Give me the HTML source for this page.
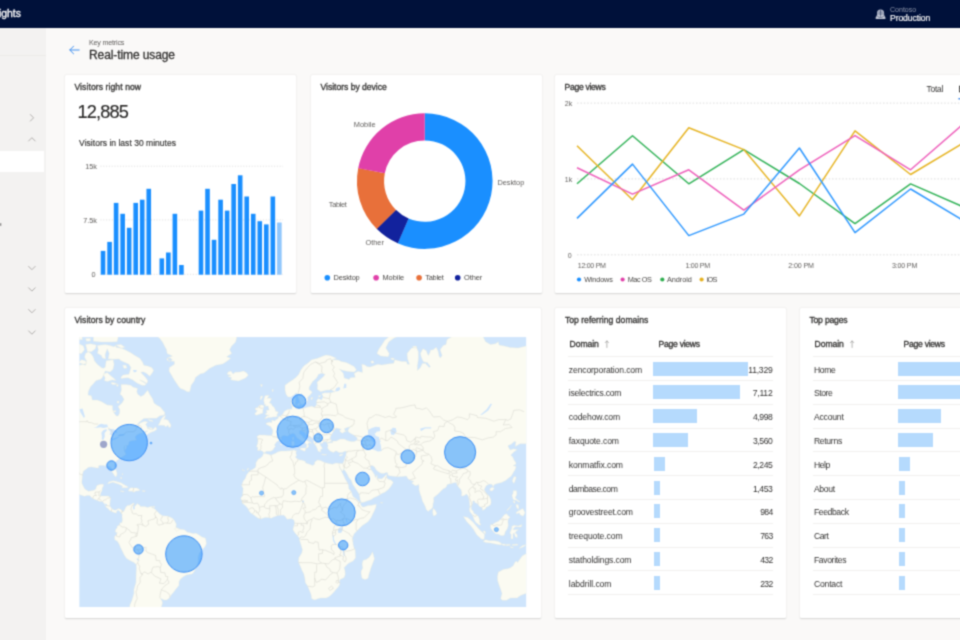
<!DOCTYPE html>
<html lang="en"><head><meta charset="utf-8"><title>Real-time usage</title>
<style>
*{box-sizing:border-box;margin:0;padding:0}
html,body{width:960px;height:640px;overflow:hidden}
body{position:relative;background:#faf9f8;font-family:"Liberation Sans",sans-serif;color:#333}
#pg{position:absolute;left:0;top:0;width:960px;height:640px;background:#faf9f8;filter:url(#soft)}
.t{position:absolute;white-space:nowrap;line-height:1;display:block}
.topbar{position:absolute;left:-12px;top:-12px;width:984px;height:40px;background:#00113a}
.sidebar{position:absolute;left:-12px;top:28px;width:58px;height:624px;background:#f3f2f1}
.sidebar .sel{position:absolute;left:0;top:122.5px;width:56.2px;height:21px;background:#fff}
.sidebar .hr{position:absolute;left:0;top:26.5px;width:58px;height:1px;background:#edebe9}
.card{position:absolute;background:#fff;box-shadow:0 0.6px 1.8px rgba(0,0,0,.13),0 0.2px 0.6px rgba(0,0,0,.10);border-radius:1px;overflow:hidden}
svg{position:absolute;left:0;top:0;overflow:visible}
.row{position:absolute;height:1px;background:#f1f0ef}
.bar{position:absolute;height:14px;background:#b5dafd}
</style></head>
<body>
<svg width="0" height="0" style="position:absolute"><defs><filter id="soft" x="0" y="0" width="1" height="1" color-interpolation-filters="sRGB"><feConvolveMatrix order="3" kernelMatrix="0.0400 0.1200 0.0400 0.1200 0.3600 0.1200 0.0400 0.1200 0.0400" edgeMode="duplicate" preserveAlpha="false"/></filter></defs></svg>
<div id="pg">
<div class="topbar"></div><span class="t" style="right:939.1px;top:9.2px;font-size:10.4px;color:#fff;-webkit-text-stroke:0.3px;">Insights</span><svg width="960" height="28" viewBox="0 0 960 28">
  <g>
   <path d="M877,15.3 L877,13.2 Q877,9.6 880.55,9.6 Q884.1,9.6 884.1,13.2 L884.1,15.3 Z" fill="#b3bacb"/>
   <path d="M877,14.9 L884.1,14.9 L885.4,17.6 L885.4,18.9 L875.7,18.9 L875.7,17.6 Z" fill="#c2c7d5"/>
   <path d="M880.55,10.4 L880.55,16.6" stroke="#0a1a44" stroke-width="0.75" stroke-dasharray="1.3 0.6" fill="none"/>
   <path d="M877.9,12.1 L883.2,12.1 M877.4,13.9 L883.7,13.9" stroke="#0a1a44" stroke-width="0.4" fill="none" opacity=".7"/>
   <path d="M877.3,16.1 L879.3,17.5 L881.8,17.5 L883.8,16.1" stroke="#0a1a44" stroke-width="0.6" fill="none" opacity=".75"/>
  </g></svg><span class="t" style="left:890.0px;top:6.4px;font-size:7px;color:#8e97ab;letter-spacing:0.020px;">Contoso</span><span class="t" style="left:890.0px;top:14.3px;font-size:8.6px;color:#fff;-webkit-text-stroke:0.16px;letter-spacing:-0.099px;">Production</span>
<div class="sidebar"><div class="hr"></div><div class="sel"></div></div><svg width="46" height="640" viewBox="0 0 46 640"><path d="M30.299999999999997,114.5 L33.6,117.8 L30.299999999999997,121.1" fill="none" stroke="#a9a7a5" stroke-width="0.9" stroke-linecap="round" stroke-linejoin="round"/><path d="M28.599999999999998,141.0 L31.9,137.70000000000002 L35.199999999999996,141.0" fill="none" stroke="#a9a7a5" stroke-width="0.9" stroke-linecap="round" stroke-linejoin="round"/><path d="M28.599999999999998,266.4 L31.9,269.7 L35.199999999999996,266.4" fill="none" stroke="#a9a7a5" stroke-width="0.9" stroke-linecap="round" stroke-linejoin="round"/><path d="M28.599999999999998,287.79999999999995 L31.9,291.09999999999997 L35.199999999999996,287.79999999999995" fill="none" stroke="#a9a7a5" stroke-width="0.9" stroke-linecap="round" stroke-linejoin="round"/><path d="M28.599999999999998,309.5 L31.9,312.8 L35.199999999999996,309.5" fill="none" stroke="#a9a7a5" stroke-width="0.9" stroke-linecap="round" stroke-linejoin="round"/><path d="M28.599999999999998,330.9 L31.9,334.2 L35.199999999999996,330.9" fill="none" stroke="#a9a7a5" stroke-width="0.9" stroke-linecap="round" stroke-linejoin="round"/><rect x="0" y="223.2" width="1.2" height="2.6" fill="#555" opacity=".8"/></svg>
<svg width="960" height="70" viewBox="0 0 960 70"><path d="M73.6,46.2 L69.8,50 L73.6,53.8 M69.9,50 L79.2,50" fill="none" stroke="#3f8ff0" stroke-width="1" stroke-linecap="round" stroke-linejoin="round"/></svg><span class="t" style="left:89.0px;top:39.1px;font-size:7.2px;color:#605e5c;letter-spacing:-0.215px;">Key metrics</span><span class="t" style="left:89.0px;top:48.8px;font-size:12px;color:#323130;-webkit-text-stroke:0.3px;letter-spacing:-0.098px;">Real-time usage</span>
<div class="card" style="left:65px;top:75.4px;width:231px;height:217.9px"><svg width="231" height="218" viewBox="65 75.4 231 218"><line x1="100.4" y1="166.6" x2="283" y2="166.6" stroke="#d9d9d9" stroke-width="0.8" stroke-dasharray="1.2 1.6"/><line x1="100.4" y1="220.3" x2="283" y2="220.3" stroke="#d9d9d9" stroke-width="0.8" stroke-dasharray="1.2 1.6"/><line x1="100.4" y1="274.7" x2="283" y2="274.7" stroke="#d9d9d9" stroke-width="0.8" stroke-dasharray="1.2 1.6"/><rect x="100.75" y="251.3" width="4.6" height="23.8" fill="#1a8fff"/><rect x="107.28" y="242.3" width="4.6" height="32.8" fill="#1a8fff"/><rect x="113.81" y="203.3" width="4.6" height="71.8" fill="#1a8fff"/><rect x="120.34" y="214.2" width="4.6" height="60.9" fill="#1a8fff"/><rect x="126.87" y="228.2" width="4.6" height="46.9" fill="#1a8fff"/><rect x="133.40" y="203.3" width="4.6" height="71.8" fill="#1a8fff"/><rect x="139.93" y="200.1" width="4.6" height="75.0" fill="#1a8fff"/><rect x="146.46" y="189.2" width="4.6" height="85.9" fill="#1a8fff"/><rect x="159.52" y="258.8" width="4.6" height="16.3" fill="#1a8fff"/><rect x="166.05" y="252.9" width="4.6" height="22.2" fill="#1a8fff"/><rect x="172.58" y="214.2" width="4.6" height="60.9" fill="#1a8fff"/><rect x="179.11" y="265.4" width="4.6" height="9.7" fill="#1a8fff"/><rect x="198.70" y="211.0" width="4.6" height="64.1" fill="#1a8fff"/><rect x="205.23" y="189.2" width="4.6" height="85.9" fill="#1a8fff"/><rect x="211.76" y="240.2" width="4.6" height="34.9" fill="#1a8fff"/><rect x="218.29" y="200.1" width="4.6" height="75.0" fill="#1a8fff"/><rect x="224.82" y="211.0" width="4.6" height="64.1" fill="#1a8fff"/><rect x="231.35" y="184.4" width="4.6" height="90.7" fill="#1a8fff"/><rect x="237.88" y="175.7" width="4.6" height="99.4" fill="#1a8fff"/><rect x="244.41" y="196.9" width="4.6" height="78.2" fill="#1a8fff"/><rect x="250.94" y="214.2" width="4.6" height="60.9" fill="#1a8fff"/><rect x="257.47" y="221.6" width="4.6" height="53.5" fill="#1a8fff"/><rect x="264.00" y="224.8" width="4.6" height="50.3" fill="#1a8fff"/><rect x="270.53" y="196.9" width="4.6" height="78.2" fill="#1a8fff"/><rect x="277.06" y="222.9" width="4.6" height="52.2" fill="#90c6fc"/></svg></div><span class="t" style="left:74.4px;top:82.7px;font-size:8.6px;color:#323130;-webkit-text-stroke:0.3px;letter-spacing:0.083px;">Visitors right now</span><span class="t" style="left:77.5px;top:103.1px;font-size:18.2px;color:#2b2a29;-webkit-text-stroke:0.16px;letter-spacing:-0.828px;">12,885</span><span class="t" style="left:79.1px;top:138.5px;font-size:8.5px;color:#323130;-webkit-text-stroke:0.16px;letter-spacing:0.026px;">Visitors in last 30 minutes</span><span class="t" style="right:863.0px;top:163.0px;font-size:7.3px;color:#605e5c;">15k</span><span class="t" style="right:863.0px;top:216.7px;font-size:7.3px;color:#605e5c;">7.5k</span><span class="t" style="right:864.4px;top:271.1px;font-size:7.3px;color:#605e5c;">0</span>
<div class="card" style="left:311px;top:75.4px;width:231px;height:217.9px"><svg width="231" height="218" viewBox="311 75.4 231 218"><path d="M424.75,113.70 A67.8,67.8 0 1 1 397.61,243.63 L408.46,218.80 A40.7,40.7 0 1 0 424.75,140.80 Z" fill="#1a8fff"/><path d="M397.82,243.72 A67.8,67.8 0 0 1 376.64,229.27 L395.87,210.18 A40.7,40.7 0 0 0 408.59,218.85 Z" fill="#12229d"/><path d="M376.81,229.44 A67.8,67.8 0 0 1 358.24,168.33 L384.83,173.59 A40.7,40.7 0 0 0 395.97,210.28 Z" fill="#e8703a"/><path d="M358.20,168.56 A67.8,67.8 0 0 1 424.75,113.70 L424.75,140.80 A40.7,40.7 0 0 0 384.80,173.73 Z" fill="#e040a9"/><circle cx="327.3" cy="278.1" r="2.8" fill="#1a8fff"/><circle cx="376.1" cy="278.1" r="2.8" fill="#e040a9"/><circle cx="419.1" cy="278.1" r="2.8" fill="#e8703a"/><circle cx="457.7" cy="278.1" r="2.8" fill="#12229d"/></svg></div><span class="t" style="left:320.5px;top:82.7px;font-size:8.6px;color:#323130;-webkit-text-stroke:0.3px;letter-spacing:-0.025px;">Visitors by device</span><span class="t" style="left:353.8px;top:120.5px;font-size:7.4px;color:#605e5c;letter-spacing:-0.016px;">Mobile</span><span class="t" style="left:497.5px;top:179.3px;font-size:7.4px;color:#605e5c;letter-spacing:-0.054px;">Desktop</span><span class="t" style="left:328.8px;top:201.3px;font-size:7.4px;color:#605e5c;letter-spacing:-0.347px;">Tablet</span><span class="t" style="left:365.6px;top:239.0px;font-size:7.4px;color:#605e5c;letter-spacing:-0.046px;">Other</span><span class="t" style="left:333.6px;top:274.4px;font-size:7.4px;color:#484644;letter-spacing:-0.171px;">Desktop</span><span class="t" style="left:382.4px;top:274.4px;font-size:7.4px;color:#484644;">Mobile</span><span class="t" style="left:425.3px;top:274.4px;font-size:7.4px;color:#484644;letter-spacing:-0.267px;">Tablet</span><span class="t" style="left:464.0px;top:274.4px;font-size:7.4px;color:#484644;letter-spacing:-0.046px;">Other</span>
<div class="card" style="left:555px;top:75.4px;width:420px;height:217.9px"><svg width="405" height="218" viewBox="555 75.4 405 218"><line x1="577" y1="103.5" x2="960" y2="103.5" stroke="#d6d6d6" stroke-width="0.8" stroke-dasharray="1.6 1.8"/><line x1="577" y1="179.3" x2="960" y2="179.3" stroke="#d6d6d6" stroke-width="0.8" stroke-dasharray="1.6 1.8"/><line x1="577" y1="255.2" x2="960" y2="255.2" stroke="#d6d6d6" stroke-width="0.8" stroke-dasharray="1.6 1.8"/><polyline points="577.0,184.2 632.5,136.2 688.8,184.2 743.8,150.0 799.4,183.9 855.0,224.0 910.6,184.3 966.2,208.6" fill="none" stroke="#31b257" stroke-width="1.5" stroke-linejoin="round"/><polyline points="577.0,146.2 632.5,200.2 688.8,128.2 743.8,150.0 799.4,216.3 855.0,131.3 910.6,174.9 966.2,141.8" fill="none" stroke="#e6b424" stroke-width="1.5" stroke-linejoin="round"/><polyline points="577.0,168.2 632.5,194.5 688.8,170.2 743.8,210.5 799.4,170.2 855.0,136.0 910.6,170.2 966.2,121.9" fill="none" stroke="#ee60bb" stroke-width="1.5" stroke-linejoin="round"/><polyline points="577.0,218.8 632.5,164.5 688.8,236.0 743.8,214.5 799.4,148.4 855.0,233.0 910.6,189.4 966.2,222.5" fill="none" stroke="#2f98ff" stroke-width="1.5" stroke-linejoin="round"/><circle cx="579" cy="279.9" r="2.1" fill="#1a8fff"/><circle cx="622.6" cy="279.9" r="2.1" fill="#e040a9"/><circle cx="662.3" cy="279.9" r="2.1" fill="#2fae4f"/><circle cx="701.6" cy="279.9" r="2.1" fill="#e6b11f"/><rect x="958.3" y="98.6" width="4" height="1.2" fill="#2b7de9"/></svg></div><span class="t" style="left:564.5px;top:82.6px;font-size:8.6px;color:#323130;-webkit-text-stroke:0.3px;letter-spacing:-0.295px;">Page views</span><span class="t" style="left:926.6px;top:84.6px;font-size:8.4px;color:#323130;letter-spacing:-0.226px;">Total</span><span class="t" style="left:958.4px;top:84.6px;font-size:8.4px;color:#323130;-webkit-text-stroke:0.3px;">By OS</span><span class="t" style="right:387.8px;top:100.1px;font-size:7px;color:#605e5c;">2k</span><span class="t" style="right:387.8px;top:175.9px;font-size:7px;color:#605e5c;">1k</span><span class="t" style="right:388.4px;top:251.8px;font-size:7px;color:#605e5c;">0</span><span class="t" style="left:577.8px;top:262.9px;font-size:7.1px;color:#605e5c;letter-spacing:-0.311px;">12:00 PM</span><span class="t" style="left:685.4px;top:262.9px;font-size:7.1px;color:#605e5c;letter-spacing:-0.270px;">1:00 PM</span><span class="t" style="left:788.3px;top:262.9px;font-size:7.1px;color:#605e5c;letter-spacing:-0.120px;">2:00 PM</span><span class="t" style="left:892.0px;top:262.9px;font-size:7.1px;color:#605e5c;letter-spacing:-0.187px;">3:00 PM</span><span class="t" style="left:584.2px;top:276.2px;font-size:7.3px;color:#484644;letter-spacing:-0.168px;">Windows</span><span class="t" style="left:627.7px;top:276.2px;font-size:7.3px;color:#484644;letter-spacing:-0.412px;">Mac OS</span><span class="t" style="left:667.0px;top:276.2px;font-size:7.3px;color:#484644;letter-spacing:-0.059px;">Android</span><span class="t" style="left:706.7px;top:276.2px;font-size:7.3px;color:#484644;letter-spacing:-0.736px;">iOS</span>
<div class="card" style="left:65px;top:308px;width:476.3px;height:309.6px"><svg width="476" height="310" viewBox="65 308 476 310"><defs><clipPath id="mapclip"><rect x="79.2" y="337.1" width="447.2" height="269.9"/></clipPath></defs><g clip-path="url(#mapclip)"><rect x="79.2" y="337.1" width="447.2" height="269.9" fill="#cfe5fc"/><path d="M57.8,365.9L67.7,365.9L77.6,365.9L82.5,364.2L85.5,365.2L86.5,360.7L84.5,357.2L85.5,353.5L88.4,351.7L91.4,353.9L93.4,357.2L94.4,360.7L97.3,364.2L101.3,367.6L103.3,368.3L105.2,367.3L106.2,360.7L113.1,359.7L114.1,364.2L113.1,369.3L110.2,372.0L105.2,371.0L103.3,375.9L101.3,379.1L95.9,380.7L93.4,383.8L90.4,386.9L88.4,391.4L88.0,394.9L91.4,395.8L92.4,400.1L97.3,400.1L101.3,401.5L107.2,404.9L112.5,405.4L112.7,409.8L114.1,413.0L116.1,415.7L118.1,415.9L119.5,413.3L119.8,409.8L118.1,406.5L122.0,402.9L124.0,399.5L122.0,395.8L120.0,394.3L121.4,389.9L121.0,384.4L126.0,384.4L130.9,385.3L132.9,386.9L137.6,388.4L136.8,391.4L137.8,394.3L140.8,396.4L143.8,394.9L146.1,392.0L147.7,390.2L149.7,394.3L152.6,398.7L154.0,402.9L156.6,405.1L160.5,407.1L162.5,409.8L164.9,412.5L164.5,414.9L159.6,415.9L156.6,418.3L150.7,418.3L143.8,418.6L139.8,421.7L136.8,425.0L134.9,427.0L137.8,425.0L140.8,422.7L144.7,421.2L147.9,421.9L145.7,424.2L147.1,426.7L147.7,428.7L149.7,429.2L153.0,429.5L155.6,426.7L157.0,429.2L154.6,431.0L150.7,432.4L147.7,434.2L145.3,435.4L144.3,433.7L147.7,431.0L145.7,431.2L142.8,431.7L142.8,432.7L139.8,433.4L136.8,434.9L135.5,436.6L135.3,438.3L136.8,439.5L135.7,440.2L133.9,440.4L130.9,440.9L128.9,442.1L128.9,444.2L127.2,446.0L126.0,444.9L126.8,447.2L125.2,450.4L124.4,449.3L124.6,445.6L123.8,447.9L124.4,450.9L126.0,454.5L123.6,456.1L121.2,457.7L119.1,459.0L117.1,460.6L115.1,462.3L114.3,465.2L115.1,468.4L116.1,470.2L117.1,473.2L116.7,475.9L115.5,476.8L114.5,475.7L113.5,474.0L111.7,471.2L111.7,468.9L110.2,466.7L108.6,466.3L106.6,466.9L104.8,465.6L102.3,465.6L100.3,465.6L98.7,465.8L98.7,468.0L96.7,468.0L94.4,467.4L91.4,466.9L88.0,467.6L86.5,468.9L83.5,471.0L82.7,473.8L82.3,477.0L81.9,481.2L81.9,483.3L83.1,485.8L84.9,488.9L86.5,490.1L88.4,491.2L91.4,490.8L93.8,490.3L95.7,489.1L96.5,486.4L96.9,485.4L100.3,484.3L103.3,484.3L103.6,485.8L102.3,488.1L101.9,491.0L100.9,492.6L100.3,495.3L99.9,496.1L101.9,495.9L105.2,495.9L108.2,496.1L110.6,497.7L110.2,500.7L110.0,503.8L109.8,505.8L111.2,507.8L112.7,509.4L115.1,510.2L117.1,509.4L118.1,508.6L120.0,509.0L122.2,510.6L121.2,513.4L120.2,511.8L118.1,510.0L116.5,511.4L116.3,513.2L114.1,512.4L111.6,511.4L110.0,510.8L107.6,508.2L105.6,506.8L105.6,505.4L103.3,502.4L102.1,501.6L99.7,501.4L96.3,500.1L93.0,498.7L89.4,495.5L87.1,495.5L84.5,496.3L80.5,495.1L77.6,493.6L73.6,491.6L69.7,489.5L57.8,477.0ZM103.3,374.3L107.2,372.6L110.2,375.2L114.1,378.5L116.1,380.4L112.1,380.0L107.2,381.6L104.2,380.4L105.2,378.1ZM111.2,382.5L113.5,382.5L117.5,384.1L113.1,384.7L111.2,383.8ZM116.7,384.4L118.5,384.7L117.9,386.6L116.5,385.9ZM117.1,401.2L119.1,400.9L118.7,403.2L117.1,402.9ZM112.7,410.9L115.9,410.6L115.7,412.0L113.1,411.7ZM121.0,378.5L125.0,378.1L128.0,377.8L132.9,380.0L136.8,382.9L141.8,385.3L144.7,385.6L146.3,384.1L143.2,381.9L139.6,380.0L142.8,381.0L146.9,383.5L147.9,380.7L145.7,377.5L141.8,373.6L140.8,372.0L143.8,372.0L146.7,373.6L149.7,376.2L152.6,372.6L153.6,370.3L151.7,367.6L147.7,365.9L143.8,365.2L142.8,362.5L139.8,358.2L134.9,355.4L130.9,352.8L125.0,349.8L121.0,347.9L116.1,345.3L114.1,346.8L109.2,345.3L105.2,344.5L101.3,344.9L97.3,345.6L98.3,349.8L97.3,353.2L101.3,355.4L102.3,357.9L105.6,358.9L105.2,354.6L107.2,348.7L109.2,353.2L108.2,358.9L113.1,359.3L119.1,358.9L121.0,360.7L125.0,362.5L128.9,364.2L130.9,367.6L129.9,371.0L128.9,374.3L123.0,374.9L121.0,376.9ZM115.5,344.9L121.0,344.5L125.0,347.2L121.0,348.3L116.1,347.2ZM85.5,344.5L90.4,343.7L96.3,344.9L95.4,348.7L91.4,351.7L87.4,351.7L86.5,347.9ZM73.6,346.0L79.5,344.1L83.5,346.0L84.5,349.8L81.5,353.5L77.6,353.5L73.6,349.8ZM93.4,341.3L101.3,342.1L109.2,342.1L117.1,341.7L118.1,337.8L117.1,332.0L93.4,332.0ZM85.5,338.6L90.4,338.2L90.4,341.0L86.5,341.3ZM71.6,334.1L81.5,334.1L82.5,339.4L76.6,340.2L71.6,338.2ZM78.6,362.5L81.5,359.7L85.5,360.7L86.5,363.5L83.5,364.2ZM122.6,365.2L126.0,365.2L127.0,368.0L124.0,368.6ZM156.6,327.8L156.6,336.1L159.6,338.2L162.5,342.1L164.5,346.0L166.5,349.8L167.1,353.5L172.4,356.1L167.5,357.9L168.5,360.7L174.4,361.4L174.4,364.2L169.4,367.6L169.0,371.0L171.4,374.9L173.4,378.5L175.8,382.2L178.3,385.9L180.3,388.4L184.3,389.9L187.2,391.7L189.6,391.7L190.2,389.9L191.2,385.3L194.1,381.3L195.5,377.5L200.1,373.9L204.0,373.0L209.9,368.3L215.9,365.2L222.8,363.9L227.7,360.7L230.7,358.2L226.7,356.8L231.7,353.5L229.7,349.8L231.7,346.0L235.6,342.1L236.6,338.2L237.6,327.8ZM166.9,358.2L170.4,357.9L172.4,360.0L169.4,361.4L166.9,360.0ZM227.1,374.3L228.1,372.0L230.9,371.1L233.1,373.9L235.0,372.3L239.6,372.0L243.5,371.0L246.3,372.6L248.3,375.2L245.5,378.1L238.6,381.0L234.6,380.4L230.5,379.7L231.7,377.8L227.7,376.2L231.1,375.2ZM158.0,425.2L159.6,422.9L160.5,420.4L162.5,417.3L165.5,414.9L164.9,417.8L163.5,419.3L165.5,419.3L168.5,420.4L169.4,422.7L170.4,423.7L171.0,425.5L170.2,427.7L168.5,427.0L168.1,425.2L165.5,427.0L164.5,425.5L161.5,425.2ZM147.7,419.3L152.6,420.6L153.2,421.4L149.7,420.9ZM148.1,427.2L152.6,428.0L152.1,429.2L148.7,428.5ZM122.2,510.6L123.4,511.8L125.0,509.0L126.0,506.8L127.4,505.6L129.9,505.2L132.5,503.4L133.9,503.0L134.3,504.2L133.1,505.4L133.7,507.2L134.9,506.2L136.4,504.8L137.2,503.4L139.8,505.2L140.4,506.6L144.7,506.6L147.7,507.4L150.7,506.4L152.8,506.4L151.7,507.4L154.6,508.8L156.6,510.8L159.6,513.8L162.5,515.8L166.5,516.0L168.8,516.4L172.4,518.2L174.0,519.8L176.4,524.2L175.8,527.2L179.3,528.8L180.3,529.2L184.3,529.7L187.2,532.1L189.2,532.5L193.1,533.5L196.1,533.3L199.1,535.1L202.0,537.1L205.4,538.1L206.2,541.7L206.4,543.7L205.0,546.7L202.0,549.7L199.1,553.8L198.1,557.8L198.1,561.9L197.1,565.0L196.1,568.1L194.1,571.8L192.2,574.1L189.8,574.3L186.6,574.9L183.7,576.4L180.3,579.2L179.1,581.7L178.9,585.6L176.4,588.6L173.4,592.5L171.4,594.7L169.4,598.1L166.7,600.1L164.1,600.1L160.0,598.1L162.1,601.0L162.5,603.3L161.3,607.2L160.5,614.2L128.9,614.2L129.9,604.9L131.9,600.3L133.9,593.6L133.9,589.3L135.9,582.8L136.1,575.4L136.4,568.1L136.2,564.6L133.9,562.5L129.9,560.5L126.6,558.4L124.4,555.4L122.6,551.7L120.6,547.7L119.1,544.1L117.3,541.3L114.7,539.7L114.5,536.7L116.5,534.5L117.3,532.7L115.3,532.1L115.5,529.7L117.1,527.8L117.1,526.2L119.5,525.0L120.0,522.8L122.0,522.6L122.4,519.8L122.0,516.8L122.2,514.6L121.2,513.4ZM174.8,528.2L177.9,528.2L179.3,529.6L176.8,531.1L174.8,529.7ZM107.4,483.5L109.2,481.8L111.2,481.2L113.1,480.8L116.1,481.2L118.1,482.0L121.0,482.7L123.0,484.1L125.6,485.4L128.5,487.0L127.0,487.7L121.6,487.7L122.6,486.2L120.0,484.8L118.1,483.9L115.1,483.1L113.1,482.3L110.2,482.9L109.2,483.5ZM128.1,490.8L130.1,487.9L131.3,487.7L133.5,487.9L136.8,487.9L138.8,488.9L140.0,490.3L138.8,490.8L135.9,491.0L133.9,492.2L131.9,491.2L129.9,491.2ZM120.4,490.7L124.4,491.3L123.2,492.0L120.4,491.2ZM142.4,490.5L145.3,490.8L145.1,491.6L142.4,491.6ZM120.6,476.8L121.6,477.2L121.8,479.1L120.6,478.5ZM122.2,473.6L123.0,473.8L122.6,475.1L122.0,474.4ZM152.8,506.4L154.6,506.2L154.6,507.6L152.8,507.6ZM263.5,453.4L264.7,453.2L269.2,454.5L271.2,455.0L275.1,453.4L278.1,451.8L281.1,451.1L285.0,451.1L290.0,450.7L294.5,450.0L295.5,451.1L296.9,450.7L295.9,452.3L296.1,454.1L296.9,455.2L295.3,457.0L296.9,458.6L299.8,460.1L301.2,459.9L305.2,461.2L305.8,463.0L309.7,464.3L312.7,465.6L314.7,464.1L314.7,461.9L317.6,459.9L320.6,460.6L324.5,462.5L328.5,463.4L332.4,464.3L334.4,463.4L336.4,463.0L339.0,463.4L339.4,466.3L339.5,467.4L341.3,470.6L342.3,472.7L344.3,477.0L345.3,479.1L347.8,483.3L348.6,485.4L348.8,488.5L351.2,491.6L353.0,496.5L356.1,498.7L359.1,501.8L360.7,502.8L360.5,504.6L362.1,506.8L364.0,507.0L368.0,505.6L371.9,505.2L376.3,504.2L375.9,507.0L374.9,509.8L372.9,513.8L371.0,517.8L368.0,521.8L365.0,523.8L362.1,525.8L358.1,529.7L356.1,531.7L354.2,533.7L353.4,535.7L352.2,538.7L352.8,541.3L353.2,544.7L354.2,548.3L355.2,549.7L355.4,553.8L355.6,557.8L353.2,560.9L348.2,563.5L346.3,565.6L344.1,567.7L344.9,570.1L345.3,574.3L344.3,577.5L340.3,579.6L339.5,580.6L339.9,583.9L338.4,587.1L336.4,589.0L334.4,591.4L331.4,594.7L328.5,597.0L325.9,598.1L320.6,598.1L318.6,598.5L314.7,599.9L311.7,598.8L311.3,595.9L310.7,593.6L309.3,590.3L307.7,586.2L305.4,582.8L304.8,578.5L303.8,574.1L301.8,570.1L299.8,565.0L298.5,561.9L298.8,557.8L301.8,552.7L302.4,549.7L301.2,545.7L299.4,539.7L299.2,537.7L297.3,535.7L294.9,532.7L292.9,529.7L293.5,527.0L294.3,524.8L294.5,522.2L293.9,520.0L291.9,518.8L289.0,519.0L287.0,519.2L285.0,516.2L283.6,515.2L280.1,515.2L277.1,515.8L275.1,516.4L271.2,518.2L268.2,517.4L265.3,517.4L260.3,519.0L257.4,517.8L253.8,515.0L250.4,512.8L248.9,510.8L248.1,508.8L245.5,505.8L242.1,503.0L241.9,500.7L240.6,498.3L242.5,495.7L242.9,491.6L243.1,488.5L241.6,485.4L243.1,481.2L245.5,478.1L246.5,474.9L249.5,471.0L252.4,469.5L255.4,467.4L256.0,465.2L255.8,463.0L258.3,459.0L260.1,458.3L262.3,456.3ZM372.5,551.7L374.5,558.8L372.9,562.9L371.0,568.1L369.0,574.3L368.0,578.5L365.0,579.6L362.1,578.5L361.1,574.3L361.1,571.2L362.7,568.1L362.1,563.9L363.1,560.3L366.0,559.4L369.0,557.4L371.0,554.8ZM264.1,452.9L262.7,451.6L260.5,450.2L257.6,450.7L257.8,447.2L256.4,446.7L257.6,443.7L258.0,440.9L257.6,437.8L256.8,436.6L259.3,434.9L264.3,435.1L268.2,435.4L271.6,435.6L272.6,432.9L272.8,430.0L270.8,426.7L266.2,424.2L265.9,423.2L269.2,422.2L272.0,422.4L271.6,419.9L274.7,420.9L275.5,419.9L278.3,418.3L278.3,416.7L281.1,415.7L283.0,413.8L284.4,411.2L287.0,409.8L289.0,409.3L291.9,409.0L292.1,406.2L291.1,404.0L291.3,400.1L295.9,398.1L295.7,401.5L294.9,404.3L294.3,406.2L296.9,407.3L299.8,407.3L303.2,408.4L307.7,407.1L311.7,406.2L314.3,407.3L316.6,404.9L316.6,400.7L318.2,398.4L321.6,400.1L323.1,396.4L321.6,393.7L324.5,392.8L330.5,392.8L334.8,391.7L331.4,389.9L326.5,390.2L320.6,391.7L317.2,389.3L317.6,385.3L317.0,382.2L323.5,376.5L325.1,374.3L321.6,373.3L318.6,374.3L316.6,378.1L312.7,381.6L309.3,386.9L309.1,389.6L312.3,392.0L310.7,394.3L307.7,397.2L307.7,400.7L306.4,402.6L303.4,404.3L300.8,404.6L299.8,402.1L298.5,398.4L297.3,394.3L296.1,392.8L293.9,394.9L290.9,396.9L288.0,396.9L286.0,394.3L285.0,389.9L285.0,385.3L289.0,382.2L292.9,379.7L295.9,377.5L298.8,374.3L300.8,370.0L303.8,365.9L307.7,363.2L311.7,359.7L317.6,358.2L324.5,355.4L326.1,355.0L330.5,355.7L336.4,358.2L332.4,359.7L338.4,360.0L341.3,361.4L346.3,362.5L354.2,366.6L356.5,370.0L354.2,372.0L348.2,371.6L342.3,370.3L339.4,369.0L343.3,373.3L344.3,378.1L349.2,379.4L350.2,377.8L355.2,377.2L354.2,373.3L358.1,371.3L362.5,372.6L362.1,367.6L361.7,364.2L365.0,364.9L367.0,366.6L370.0,366.9L377.9,364.2L381.8,364.9L387.8,363.9L393.7,363.2L394.7,359.7L401.6,361.4L406.5,361.4L407.5,364.2L409.5,364.2L407.5,358.9L407.1,353.5L411.5,347.9L416.4,347.2L418.4,351.7L418.4,358.9L417.4,365.9L417.4,370.6L420.4,367.6L422.3,363.5L425.3,363.2L429.2,367.6L430.4,366.6L427.3,362.5L423.3,361.8L421.3,357.2L420.4,353.5L422.9,348.7L426.3,350.6L427.3,353.5L428.5,355.4L430.2,351.7L430.2,350.2L433.2,349.8L436.2,347.2L438.1,350.9L439.1,356.1L440.3,357.9L442.1,355.4L440.1,349.8L443.1,345.6L446.0,344.5L447.0,339.4L453.0,336.1L472.7,327.8L480.6,327.8L483.6,337.8L485.6,341.7L490.5,344.5L495.4,343.7L498.4,341.7L499.0,344.9L504.3,346.0L510.2,347.5L518.2,347.9L526.1,346.0L535.9,347.9L535.9,443.7L520.1,443.7L516.2,446.0L515.2,446.5L515.8,441.8L514.2,441.6L511.2,444.2L508.3,445.6L507.9,446.0L509.3,448.4L510.2,450.0L513.6,448.8L517.2,449.7L514.2,451.8L512.8,452.9L510.8,455.2L512.8,457.0L514.0,460.1L515.8,462.5L516.0,464.3L513.2,465.6L516.2,466.5L515.2,469.5L513.2,472.7L511.4,475.9L508.7,478.1L505.7,480.6L501.0,482.7L498.4,483.3L494.4,484.5L493.1,486.8L492.1,484.5L489.5,484.1L486.5,485.4L485.7,486.8L484.2,489.5L485.6,492.2L487.5,494.4L489.1,495.7L490.9,499.7L491.1,502.8L490.5,504.8L487.5,506.8L486.1,507.2L485.6,508.8L482.6,510.4L482.2,507.8L479.6,506.6L477.6,503.8L474.7,502.4L474.5,501.0L473.7,500.7L472.7,501.4L472.5,503.8L471.3,506.8L471.3,509.2L473.3,511.2L473.9,513.4L476.3,514.6L478.6,516.8L479.6,519.8L479.6,522.4L481.0,525.0L479.4,525.0L476.7,523.2L475.3,521.8L473.7,518.8L473.3,516.8L472.1,514.4L469.9,511.8L469.4,509.8L469.9,506.8L469.7,503.8L469.2,499.7L468.0,495.7L466.4,494.0L464.8,495.3L462.8,496.1L461.4,495.7L461.8,492.6L460.9,489.5L458.9,487.5L456.9,484.8L456.5,482.5L453.9,482.7L451.0,483.7L449.0,483.9L447.0,484.8L446.6,486.4L445.6,487.7L443.1,488.9L441.1,491.0L437.7,494.4L435.6,495.9L433.6,497.7L433.8,501.4L433.0,503.8L432.8,507.2L431.2,509.2L429.6,510.0L428.3,511.6L426.3,509.8L425.3,506.8L423.9,503.8L422.3,500.7L421.3,496.7L420.0,493.6L419.0,489.5L419.0,486.4L418.6,484.3L417.8,485.0L415.4,485.8L411.5,482.9L414.0,481.4L411.1,480.6L408.5,479.3L407.1,477.4L406.5,476.1L402.6,476.6L397.6,476.8L394.7,476.4L390.7,475.9L388.3,475.5L387.4,472.7L386.4,472.5L383.8,473.4L380.8,473.2L377.9,471.5L375.9,469.5L374.9,467.4L372.9,465.8L371.6,465.6L370.0,466.7L371.0,469.5L372.9,472.1L374.3,474.2L375.3,477.0L375.9,477.4L376.9,474.7L377.3,477.0L376.7,478.3L378.9,478.7L381.8,478.7L382.8,478.1L384.4,476.4L386.0,474.7L386.6,474.2L386.6,477.2L387.8,479.1L390.9,479.9L393.3,482.3L391.3,485.8L389.3,488.5L387.8,489.9L384.8,492.2L381.8,493.6L378.3,495.7L373.9,497.7L371.0,499.7L367.0,501.0L364.0,502.2L361.1,502.4L360.1,499.7L359.7,496.7L359.1,494.0L357.1,491.0L355.2,487.9L352.6,484.3L351.2,480.2L348.8,477.4L347.3,474.2L344.9,470.6L343.9,469.5L344.3,467.4L343.1,470.6L342.7,471.2L340.7,469.1L339.7,466.7L339.4,466.3L339.0,463.4L342.7,463.4L344.1,460.8L344.7,458.6L345.9,455.2L346.3,452.9L346.5,451.1L344.3,451.6L342.3,452.5L339.4,452.7L336.4,451.1L335.6,451.1L333.4,452.5L330.5,451.3L329.1,450.2L327.5,447.7L328.1,445.3L326.9,443.7L329.5,442.8L332.4,442.8L332.8,441.1L336.4,440.9L340.3,439.0L344.3,439.0L347.3,440.6L351.2,441.6L354.2,441.4L357.3,439.9L357.1,437.8L354.2,435.6L353.6,435.1L350.2,433.2L348.2,431.7L347.8,431.0L349.2,428.0L351.2,426.5L352.8,426.2L350.2,426.7L347.3,427.5L344.3,428.7L345.3,431.0L347.3,430.7L344.9,431.7L342.3,433.2L341.3,432.7L339.4,430.7L341.3,429.2L338.4,428.5L336.0,428.0L333.8,431.0L331.8,434.2L330.5,436.6L330.1,437.8L330.9,440.2L332.4,440.9L330.5,441.4L328.5,442.3L326.9,443.0L326.5,441.8L323.5,441.6L322.2,443.7L320.2,442.5L320.2,444.9L321.0,446.0L322.6,448.4L320.6,449.5L320.8,451.8L319.2,451.8L318.0,451.1L317.2,448.8L316.6,447.2L316.0,446.0L314.7,444.4L313.5,442.8L313.7,439.7L311.7,437.8L308.7,436.1L305.8,434.2L303.8,431.2L302.2,432.0L302.2,430.0L299.4,431.0L299.6,433.7L302.0,435.4L303.8,438.3L306.8,439.2L306.8,440.4L310.7,442.3L311.7,443.5L308.9,442.5L308.7,443.0L307.9,444.4L308.9,446.0L307.7,447.7L306.2,448.6L306.4,446.7L306.9,444.9L305.8,443.5L303.8,442.1L300.8,440.6L299.2,439.5L296.9,437.8L295.5,435.4L294.5,433.9L292.7,433.2L290.0,434.6L287.4,436.3L284.6,435.6L282.1,435.9L281.3,437.8L281.5,439.2L279.5,440.4L276.7,441.8L274.5,444.9L275.5,446.5L274.2,447.7L273.6,449.3L271.4,450.9L270.2,451.3L266.4,451.3L264.5,452.7ZM263.9,418.8L266.8,418.3L268.2,417.5L271.2,417.5L273.2,417.0L275.7,417.0L277.9,415.9L276.7,415.2L278.5,412.0L275.7,411.2L275.3,409.5L274.2,407.3L272.2,405.7L271.2,403.5L269.2,402.9L270.2,401.5L271.6,398.4L268.2,398.1L267.2,398.4L269.2,395.5L265.3,395.5L264.3,397.8L263.7,400.7L264.3,402.9L264.3,404.9L265.7,404.3L265.3,406.2L268.2,406.0L268.4,407.6L269.2,410.1L266.2,410.3L266.6,411.7L267.0,412.8L264.9,414.1L266.6,414.9L269.2,415.4L266.8,415.9L264.9,418.3ZM262.7,413.3L262.9,410.3L263.5,407.3L264.3,406.5L262.7,405.1L260.3,404.9L258.3,406.2L258.1,407.6L255.4,407.9L255.4,410.1L257.4,410.6L256.4,412.0L254.8,413.6L255.4,414.9L256.4,415.2L258.7,414.4L261.3,413.6ZM299.8,448.4L301.6,447.9L306.0,447.9L305.2,450.7L304.8,451.3L302.8,450.4L300.0,449.3ZM291.3,441.6L293.5,440.9L294.5,442.5L294.1,445.6L292.9,445.8L291.7,445.6L291.7,443.0ZM292.1,438.0L293.7,436.6L293.9,439.0L293.3,440.4L292.3,439.5ZM321.6,454.1L323.5,454.3L327.1,454.7L324.5,455.3L321.6,454.6ZM339.0,455.2L340.3,454.4L343.3,453.7L342.3,455.2L340.3,456.1ZM279.9,444.6L281.3,443.8L281.9,444.6L281.1,445.3ZM297.3,403.7L299.8,402.6L300.0,404.3L298.8,405.7L297.3,405.1ZM294.5,404.3L296.3,404.3L296.3,405.4L294.9,405.4ZM311.1,397.5L312.7,397.5L312.3,399.2L311.1,400.1ZM318.4,395.8L320.6,395.5L320.6,396.6L318.6,397.2ZM376.9,353.5L380.8,356.1L388.3,356.8L389.3,353.5L385.8,347.9L388.7,342.1L393.7,338.2L401.6,334.9L409.5,331.2L397.6,331.2L389.7,336.1L384.8,340.2L381.8,344.9L378.9,349.1ZM370.6,361.4L372.9,360.7L374.3,362.5L371.9,363.5ZM390.7,357.9L394.3,358.2L393.7,360.0L391.7,359.7ZM412.5,346.4L416.4,346.0L416.4,347.9L413.4,347.9ZM514.2,476.4L516.2,477.0L515.0,481.2L513.8,483.5L512.4,481.2L512.8,479.1ZM492.5,487.2L494.4,488.3L492.5,490.8L490.5,491.0L489.7,489.1L491.5,487.5ZM433.2,508.2L435.6,510.8L436.9,513.8L435.2,515.6L433.2,515.8L432.6,511.8ZM463.4,516.6L467.8,517.4L472.7,521.8L479.6,529.7L484.6,534.3L484.2,539.3L481.6,539.3L476.7,534.7L473.7,529.7L470.7,525.8L466.8,521.8ZM483.0,541.3L485.6,539.7L489.5,540.7L494.4,540.7L498.4,541.5L501.4,543.3L501.2,545.1L496.4,544.3L490.5,543.1L485.6,542.5ZM490.5,524.8L492.5,524.4L495.0,522.8L498.4,521.2L501.4,518.4L504.3,514.8L506.3,513.8L510.2,517.4L508.3,518.8L507.9,521.8L508.3,525.8L507.3,528.8L505.3,531.7L504.3,535.3L501.4,535.7L498.4,534.3L495.4,533.7L492.5,530.7L490.5,527.8ZM511.8,526.2L514.2,525.2L518.2,526.0L522.1,524.6L521.1,527.0L515.2,526.8L512.8,529.4L515.2,529.7L518.7,529.6L516.2,531.3L515.2,532.7L517.2,534.7L517.2,537.7L515.2,536.7L514.2,533.3L513.0,533.7L513.0,538.9L511.0,538.7L511.2,534.7L509.9,533.1L511.8,528.2ZM501.4,543.9L503.5,543.9L505.7,544.3L505.5,545.5L502.7,545.3ZM505.9,544.5L510.2,544.3L510.2,545.3L506.3,545.7ZM512.0,544.5L517.8,544.1L517.8,545.3L512.2,545.5ZM510.2,546.5L513.8,547.5L512.2,548.1L510.4,547.3ZM519.1,548.3L522.1,545.7L526.1,544.5L524.1,546.5L520.1,548.3ZM483.0,531.1L485.0,530.9L485.7,533.7L484.2,533.3ZM513.4,490.5L516.6,490.8L516.8,494.6L515.2,497.7L517.2,499.7L520.1,501.8L519.1,502.2L516.2,500.3L513.8,500.1L512.6,498.1L512.0,495.3L513.0,493.6ZM506.7,511.0L509.3,508.8L511.2,506.0L511.4,505.0L509.9,507.0L506.9,510.0ZM513.0,501.0L515.0,501.2L515.0,503.2L514.0,503.0ZM516.2,504.2L518.3,504.8L518.9,507.8L518.2,509.4L517.2,508.2L516.2,506.8ZM516.2,512.2L519.1,510.6L522.9,508.4L525.1,512.8L523.1,516.2L520.1,514.8L519.1,512.8L516.6,514.0ZM498.6,571.8L499.6,571.6L503.5,569.3L507.5,568.7L510.4,567.7L513.4,565.4L514.8,562.5L516.4,560.9L517.6,562.5L519.3,559.9L522.3,555.8L530.2,551.7L538.1,551.7L538.1,602.6L528.2,593.0L524.3,594.1L520.7,595.4L518.3,597.0L517.4,597.9L510.4,598.1L506.5,600.3L502.5,600.3L500.6,598.8L502.0,593.6L500.6,589.3L499.0,584.9L497.6,580.6L497.4,576.4L498.0,573.5ZM380.6,502.6L382.8,502.6L382.4,503.2L380.6,503.0ZM352.6,539.3L353.2,539.7L353.2,540.5L352.6,540.3ZM241.8,469.7L243.3,469.5L242.5,470.6L244.7,470.4L244.7,471.0L243.9,471.0ZM246.9,469.3L248.5,468.0L248.7,468.7L247.5,470.4ZM260.5,384.4L262.3,384.4L261.9,386.9L260.9,385.9ZM272.0,389.6L273.4,389.6L273.0,391.7L272.2,391.4ZM260.9,396.1L262.9,396.1L260.9,400.1L260.1,398.9Z" fill="#fbfbf2" stroke="#e9eadf" stroke-width="0.35" stroke-linejoin="round"/><path d="M93.4,427.5L96.3,427.0L99.3,424.5L101.3,423.7L104.2,424.5L107.2,424.5L108.0,427.0L106.2,427.5L103.3,428.0L100.3,427.2L97.3,427.7ZM101.7,439.7L103.5,439.7L104.8,436.6L104.6,432.9L107.2,430.0L106.0,429.2L103.3,430.2L101.3,432.7L101.9,435.9ZM107.8,429.5L110.2,429.0L113.9,429.2L117.1,431.7L117.1,432.9L114.5,432.4L113.7,435.6L112.3,436.6L111.2,434.6L109.6,434.9L110.6,432.0L109.2,430.2ZM110.4,439.7L112.1,440.4L115.1,439.5L119.1,437.3L119.1,436.8L116.1,437.5L113.1,438.5L110.8,438.7ZM117.5,435.9L121.0,435.9L124.6,435.1L124.2,433.7L122.0,434.2L119.1,434.6ZM79.5,409.3L82.5,408.4L84.9,416.5L83.9,418.0L80.5,412.5ZM104.8,503.6L106.8,504.2L107.4,505.6L105.6,505.2ZM132.9,506.6L134.5,506.6L134.9,509.0L133.3,509.6ZM136.4,558.6L138.2,559.0L139.2,560.7L137.2,560.3ZM132.9,370.0L136.8,370.0L136.2,372.0L133.9,372.3ZM368.0,430.0L371.9,428.0L375.9,426.7L379.9,427.2L380.2,431.0L376.5,431.7L375.9,432.9L374.5,433.4L375.9,436.1L379.3,437.3L378.9,439.7L380.8,440.9L379.9,442.5L380.8,444.9L381.4,449.5L381.8,450.9L377.9,451.6L374.5,450.0L372.3,449.3L371.8,447.2L372.5,445.3L374.5,443.0L372.9,442.1L371.0,439.2L369.0,436.6L368.0,433.4ZM390.3,430.5L392.7,427.7L395.7,428.0L396.6,431.7L393.7,435.1L391.1,434.6ZM420.4,428.5L425.3,427.2L431.2,427.2L431.2,428.5L425.3,428.5L421.3,431.0L420.4,430.2ZM480.0,415.2L482.6,414.6L488.5,410.3L492.1,404.0L490.5,403.7L486.5,409.5L481.6,413.8ZM335.0,391.4L336.4,388.1L339.4,386.9L340.3,389.3L338.4,391.1ZM343.3,388.4L344.3,383.8L346.3,383.8L346.3,387.8ZM299.6,395.2L301.4,393.4L302.8,394.6L300.8,396.1ZM337.8,529.6L339.4,527.4L342.3,527.2L342.7,529.7L341.3,532.7L338.4,533.1ZM332.6,534.5L333.8,535.7L334.0,539.7L336.4,544.5L335.6,544.9L333.0,540.7L332.6,536.7ZM342.1,546.7L343.3,547.7L344.1,551.7L344.7,555.8L343.9,556.4L342.9,551.7L342.3,548.7ZM301.8,500.7L303.8,500.5L304.0,502.2L302.4,502.4ZM345.9,518.8L346.9,519.0L347.6,522.6L346.7,522.8ZM303.2,395.5L304.4,395.8L303.8,397.8L303.0,397.5Z" fill="#cfe5fc"/><path d="M57.8,421.7L87.1,421.7L87.1,420.6L88.2,422.4L91.4,422.7L94.4,424.0L97.3,424.0L98.3,424.2M108.0,428.0L110.2,429.2L112.1,431.0L112.3,436.6L111.0,438.5L111.7,439.7M119.1,436.8L118.9,435.9L119.7,435.1L123.4,435.1L124.2,433.9L127.0,431.7L133.9,431.7L135.3,430.7L136.2,428.7L136.8,427.5L138.4,425.5L140.2,425.7L141.2,426.5L141.2,430.0L142.0,431.0L142.8,431.7M83.1,475.1L79.3,474.0L78.6,471.7L76.6,469.1L74.6,466.7M93.0,498.7L93.0,497.1L94.0,495.5L96.5,495.5L94.6,493.1L95.4,493.1L95.4,492.0L99.0,492.0L98.9,495.9L99.5,495.9M99.0,492.0L100.7,490.5M100.7,496.3L98.9,497.9L98.5,498.9L97.1,500.2M98.5,498.9L100.3,499.7L101.7,501.0M102.5,501.8L103.8,500.1L105.8,499.7L107.6,498.1L110.6,497.7M105.8,505.6L107.8,505.8L109.8,506.0M111.4,511.6L111.4,509.6L111.9,508.6M122.2,510.6L122.6,512.0L121.2,513.4M133.5,488.1L133.5,490.1L132.9,490.3L133.3,491.6M134.3,504.2L131.9,505.6L130.9,509.2L132.1,511.0L132.1,513.0L133.1,513.8L136.6,513.8L138.0,515.6L141.8,515.4L141.2,518.8L142.2,521.0L141.2,522.2L142.4,523.2L143.0,525.4M143.0,525.4L141.0,524.2L137.2,524.4L137.2,525.6L138.4,525.8L138.0,530.1L137.0,536.1M137.0,536.1L135.5,535.3L136.8,533.1L131.1,532.5L129.5,530.3L126.4,528.0M126.4,528.0L124.4,527.0L122.0,527.0L119.5,525.0M126.4,528.0L125.8,530.9L123.8,532.9L120.4,534.5L119.7,536.9L117.9,536.7L116.5,536.1L116.5,534.5M137.0,536.1L131.1,537.9L130.5,539.9L128.9,542.3L131.1,545.9L132.5,547.7L135.7,546.7L135.7,549.7L137.6,549.6M137.6,549.6L139.4,552.7L138.8,557.4L138.0,559.0L138.8,560.3L137.6,562.5L137.8,562.9L136.2,564.6M137.6,549.6L140.2,549.7L143.6,547.5L146.1,547.3L145.9,551.1L147.9,552.7L151.1,553.8L155.6,555.4L156.2,560.5L159.8,560.5L160.0,562.5L161.5,564.4L160.9,566.0L160.2,567.7L160.2,568.5M137.8,562.9L139.8,566.8L139.2,568.3L141.0,573.9M141.0,573.9L142.4,573.9L144.3,571.8L148.1,573.9L151.1,572.2L151.5,572.6M151.5,572.6L152.1,569.3L153.0,567.2L158.4,566.6L160.2,567.7M160.2,568.5L160.7,572.4L164.9,572.8L165.7,576.4L167.9,576.6L167.3,579.8M151.5,572.6L154.6,576.0L160.9,578.9L159.4,583.2L163.9,583.6L167.3,579.8M141.0,573.9L142.8,574.3L140.0,577.5L140.2,582.6L137.6,585.8L136.8,590.1L135.9,591.9L136.8,596.5L137.2,598.5L136.1,600.8L134.9,603.7L134.5,607.2L133.9,611.8M167.3,579.8L168.8,581.1L168.8,583.2L164.9,585.6L161.3,589.7M161.3,589.7L160.2,594.7L159.8,597.9M161.3,589.7L164.5,591.2L165.3,591.2L168.5,593.4L169.8,595.2L169.6,597.4M156.6,510.8L154.4,513.8L156.0,517.4L155.2,517.4M143.0,525.4L145.7,526.4L148.7,524.4L147.9,520.8L151.1,519.8L154.6,518.8L155.2,517.4M155.2,517.4L156.6,517.6L157.4,519.2L157.0,523.2L158.6,525.2L160.5,524.6L163.5,524.0L164.7,522.8L167.3,523.2L170.4,523.4L171.2,522.8L173.0,519.8M162.3,516.0L161.9,517.8L160.5,519.8L161.9,521.2L163.5,524.0M168.5,516.4L167.7,518.0L168.5,520.6L167.3,523.2M270.8,455.0L271.8,458.1L272.8,460.8L269.2,462.5L268.0,464.3L265.3,466.3L261.3,467.6L258.0,469.1L258.0,472.1M258.0,471.2L249.1,471.2M258.0,472.1L258.0,474.9L251.4,474.9L251.4,480.2L249.5,481.2L249.5,484.8L241.6,484.8M258.0,472.1L265.7,477.0L277.5,485.2L277.5,486.0L281.1,489.3L281.5,487.9L283.4,489.1M265.7,477.0L264.1,483.3L262.7,487.5L264.1,494.6L264.7,495.1L264.3,496.7L256.8,496.7L253.8,497.1L252.4,496.5L251.0,498.1M251.0,498.1L248.5,495.3L246.5,494.4L242.9,494.6L242.5,495.7M251.0,498.1L251.4,500.1L252.6,503.0M252.6,503.0L248.1,502.4L245.5,502.4L242.1,503.0M241.9,500.5L244.7,500.1L247.1,500.7L247.9,501.0L246.5,501.4L243.9,501.4L241.9,501.6M252.6,503.0L254.0,503.8L257.4,503.0L258.7,505.0L259.3,507.4M248.9,509.8L250.4,508.0L253.0,507.8L254.0,509.2L254.8,510.8L254.2,512.2L252.4,514.0M254.8,510.8L256.6,511.0L256.6,513.0L258.3,512.6L258.7,514.8L260.3,516.2L260.3,519.0M258.3,512.6L259.9,511.0L259.3,507.4M259.3,507.4L262.9,506.4L264.3,507.0L265.7,508.2L269.8,508.8M269.8,508.8L269.8,511.8L268.8,514.2L269.6,517.6M269.8,508.8L269.6,505.8L275.1,505.6M275.1,505.6L275.9,507.8L276.3,510.8L276.3,514.0L277.5,515.6M276.9,505.8L278.3,509.8L278.3,515.2M282.3,504.4L282.6,507.2L280.5,509.8L280.5,515.0M264.3,507.0L264.7,504.2L266.4,502.4L267.2,501.0L269.4,499.7L271.2,498.5L273.8,497.5L275.5,497.9M275.5,497.9L277.1,501.0L279.5,503.0L279.9,504.0L282.3,504.4M275.1,505.6L276.9,505.8L279.9,504.0M275.5,497.9L282.1,496.9L283.4,494.6L283.4,489.1M283.4,489.1L286.6,488.5L290.0,485.6L298.8,480.2L303.2,482.0L304.8,481.2L306.8,480.2M282.3,504.4L283.2,500.7L288.6,501.6L291.9,501.8L294.9,501.2L299.8,501.6L302.0,500.3M302.0,500.3L301.8,498.7L305.8,493.8L306.0,487.7L306.8,486.6L304.8,481.2M292.1,450.9L291.5,454.5L290.0,457.4L292.9,461.7L293.9,465.6M293.9,465.6L295.5,464.3L295.5,462.5L297.9,461.0L297.9,459.2M293.9,465.6L294.7,469.9L294.7,473.8L293.7,474.4L294.9,477.4L298.8,480.2M324.9,462.8L323.9,466.0L324.5,468.0L324.5,483.3M306.8,480.2L322.6,488.5L322.6,487.5L324.5,487.5L324.5,483.3M324.5,483.3L348.0,483.3M322.6,488.5L322.6,496.3L320.4,496.7L319.6,499.3L318.6,502.4L320.4,505.0L320.4,506.0M302.0,500.3L303.0,501.8L303.2,503.0L304.0,503.4L305.0,504.2L304.8,506.0L305.8,507.8L302.8,508.0L305.2,510.8L305.2,512.8M305.2,512.8L307.5,512.4L310.7,511.8L312.7,509.8L315.4,509.6L318.0,506.6L320.4,506.0M303.2,503.0L301.4,507.6L300.4,510.2L298.5,513.8L296.1,513.6L294.5,514.2L292.7,516.2L292.1,518.2M305.2,512.8L303.8,515.4L304.0,517.8L304.8,519.8L306.9,522.0L307.1,523.4M294.5,523.2L297.5,523.4L301.4,523.4L303.8,523.4L307.1,523.4L306.9,524.4M294.5,525.8L297.5,525.8L297.5,523.4M301.4,523.4L301.2,525.2L303.6,525.2L303.8,528.8L302.6,530.3L303.6,531.5L303.0,532.5L300.0,531.5L298.1,532.5L298.7,534.7L297.1,535.5M299.2,539.3L301.0,536.9L303.6,537.3L305.2,536.3L307.1,532.1L310.1,529.0L310.7,522.8L311.9,520.8L311.7,519.2M307.1,523.4L307.9,520.8L311.7,519.2L313.5,517.6L315.6,518.8L319.4,519.6L321.4,518.6L324.1,517.8L325.1,517.2L329.3,517.6M320.4,506.0L322.0,508.4L321.6,510.4L323.0,511.2L324.9,512.6L327.3,514.6L329.3,517.6M322.0,508.4L326.1,507.0L327.7,508.8L330.5,509.0L332.4,508.4L334.4,507.2L336.8,508.2L339.2,504.4L340.7,503.4L340.5,506.2L342.1,508.8L342.5,510.6M329.3,517.6L331.2,519.2L333.4,518.6L336.0,520.8L336.8,520.2L339.0,520.6L341.3,520.2L342.3,519.4M342.5,510.6L340.3,512.0L343.7,514.4L344.9,517.0L342.3,519.4L346.1,518.6M342.5,510.6L342.9,506.6L344.5,504.2L346.5,502.4L347.1,498.9L348.0,494.2L351.4,491.6M347.1,498.9L350.0,497.9L352.2,498.5L355.7,499.5L358.9,502.8L360.3,502.4M358.9,502.8L357.7,505.8L359.9,506.0L359.5,506.6L362.1,509.8L368.0,511.8L370.0,511.8L364.0,517.8L361.1,518.2L358.1,519.4L357.9,520.0M346.1,518.6L348.0,519.0L350.4,520.6L353.2,521.0L355.7,519.4L357.9,520.0M357.9,520.0L356.1,522.2L356.1,529.6L357.3,531.1M342.3,519.4L343.3,521.6L344.3,524.0L342.5,527.0L342.1,529.7M342.1,529.7L349.4,533.7L349.8,535.1L352.6,537.1M336.0,520.8L337.0,523.4L334.4,525.8L333.6,529.0L333.6,530.5M333.6,530.5L335.4,529.9L336.0,529.7L342.1,529.7M333.6,530.5L332.8,531.1L332.4,533.1L332.8,535.5L333.2,536.5L336.0,534.3L335.4,532.5L336.0,529.7M332.4,533.1L335.4,532.5M336.0,544.3L339.9,546.3L340.9,546.7L342.3,546.7M344.1,550.9L347.3,551.1L351.2,550.3L355.0,548.7M340.9,546.7L340.7,548.9L340.9,552.7L339.7,555.0L343.5,556.6L342.9,559.4L344.9,562.1L346.1,559.9L345.9,557.0L344.1,554.8L344.1,550.9M336.0,544.3L332.2,544.7L331.2,546.3L331.6,549.7L334.0,552.1L334.0,554.6L331.2,552.7L328.5,551.7L325.1,550.1L323.3,550.3L322.6,549.5L322.4,553.4L318.6,553.8M300.6,539.5L307.9,539.5L308.7,542.3L313.7,543.5L314.7,541.7L318.2,542.3L318.6,546.7L319.2,550.1L322.6,549.5M318.6,553.8L318.6,560.3L321.4,563.1M298.5,562.5L302.8,562.7L311.5,562.7L317.4,563.9L321.4,563.1L325.1,563.5M316.6,564.6L316.6,572.2L314.7,572.2L314.7,578.1L314.7,585.8M314.7,585.8L312.7,586.9L309.5,586.4L307.7,586.2M314.7,578.1L316.2,582.4L319.8,580.9L321.0,579.2L325.7,579.8L328.3,577.0L329.5,575.2L333.2,572.6M325.1,563.5L326.9,567.2L329.9,569.1L330.5,571.4L333.2,572.6M325.1,563.5L328.5,563.9L332.2,559.9L335.2,559.0M335.2,559.0L334.8,557.8L340.7,555.8L339.7,555.0M335.2,559.0L340.1,561.3L340.1,565.6L339.7,569.1L337.0,573.1M333.2,572.6L337.0,573.1M337.0,573.1L338.4,577.5L338.4,582.4L340.1,582.6M338.2,580.4L336.4,580.6L336.0,582.4L337.0,583.4L338.4,582.4M331.6,586.2L328.5,588.4L330.1,590.6L331.2,589.5L332.8,589.0L333.2,587.7L331.6,586.2M257.6,439.2L258.9,438.7L262.1,439.2L262.9,439.9L261.5,441.4L261.5,443.2L260.3,444.4L261.3,445.8L260.7,447.4L261.3,447.9L260.3,449.5L260.5,450.2M271.6,435.6L273.8,436.8L276.5,437.1L278.5,437.8L281.3,437.8M280.1,416.2L281.5,417.3L283.4,419.1L284.8,418.8L286.6,420.4L287.8,420.4L291.3,421.7L290.2,425.2L289.2,425.5L287.2,427.7L287.2,428.7L289.0,429.5L288.6,431.5L289.0,433.7L290.0,434.6M281.9,415.4L283.6,415.4L286.6,415.9L286.4,417.0L287.2,417.3L287.8,418.3L287.2,418.8L287.8,420.4M287.2,417.3L287.0,414.4L288.6,414.1L289.0,412.2L289.4,410.3M292.1,406.0L294.7,406.2M303.2,408.7L303.6,411.2L304.0,412.2L304.2,416.5L304.8,416.7M304.8,416.7L303.4,416.5L299.4,418.3L299.8,419.9L302.4,422.4L300.8,425.5L299.2,425.2L295.9,425.5L294.1,425.5L290.2,425.2M289.0,429.5L291.7,428.2L292.9,429.7L295.1,427.7L295.9,427.0L299.0,426.7L302.2,428.0L302.2,430.0M294.1,425.5L293.9,426.5L295.9,427.0M302.4,422.4L304.8,421.7L308.5,422.4L308.9,424.2L306.9,427.0L304.0,428.2L302.2,428.0M304.8,416.7L307.3,417.3L308.5,418.0L312.3,420.4L314.7,420.9L319.6,421.4M308.5,422.4L312.3,420.4M308.9,424.2L312.3,424.7L315.6,422.9L318.8,423.2M306.9,427.0L307.7,428.0L309.9,429.5L312.3,429.5L315.2,428.7L317.0,428.2L318.8,425.2L318.8,423.2M314.3,407.3L320.2,407.3L321.6,408.7L322.4,412.0L321.0,413.0L321.8,415.2L322.8,417.0L319.8,420.4L319.6,421.4M316.6,402.6L324.3,401.8L327.7,403.7M323.1,397.5L329.3,398.7M330.5,392.8L329.3,398.7L330.9,402.3L327.7,403.7L327.7,405.4L326.1,406.0L321.6,408.7M317.2,405.1L320.2,406.0L320.2,407.3M330.9,402.3L336.2,404.0L338.0,413.6L335.6,415.7M321.8,415.2L328.9,414.9L335.6,415.7M338.0,413.6L343.1,415.7L345.1,417.5L350.6,419.3L354.4,420.1L353.8,424.5L350.6,426.5M319.6,421.4L318.8,423.2L324.3,425.0L327.7,423.5L330.9,423.7L334.4,428.2L333.6,430.7M327.7,423.5L330.9,430.5L333.6,430.7M315.2,428.7L317.4,432.0L320.0,432.9L320.4,434.6L325.3,434.9L328.5,433.9L331.6,434.9M312.3,429.5L312.7,432.0L313.9,434.2L313.1,435.4L315.2,437.1L314.9,437.8L313.3,439.2M302.2,430.5L305.4,430.5L306.2,428.7L307.7,428.0M312.7,432.0L308.7,431.2L306.4,431.2L306.4,433.7L309.9,436.8L311.7,437.8M320.0,433.7L319.4,437.1L320.4,440.6L323.5,440.2L327.1,439.7L327.7,440.6L326.5,441.8M327.1,439.7L330.5,439.0M314.9,437.8L315.6,440.6L316.6,441.8L314.7,444.4M315.2,437.1L317.8,438.3L319.4,438.3M316.6,441.8L320.4,440.6M297.9,394.3L298.8,390.8L299.8,386.6L299.2,382.2L302.8,378.5L303.8,372.3L307.5,367.6L310.9,364.2L314.9,362.1L315.8,362.1M315.8,362.1L322.0,366.3L321.6,372.0L323.0,373.3M315.8,362.1L319.4,363.5L325.9,361.8L326.5,360.0L330.5,358.6L332.4,362.1L332.2,360.0M332.2,360.0L331.4,364.2L334.4,366.9L332.6,369.6L334.6,373.6L333.6,376.2L335.6,379.1L337.6,382.5L334.0,387.8L330.1,389.9M260.7,405.7L258.9,407.1L260.7,408.2L262.7,408.2M346.7,453.2L347.6,451.1L351.2,451.1L355.6,450.4L358.9,450.4L363.7,450.2L362.1,445.1L363.7,444.4L361.5,443.5L361.1,441.1L359.1,440.2L357.3,440.2M354.2,435.6L359.1,436.1L363.1,437.3L366.8,439.2L367.4,440.6L364.0,440.6L361.1,441.1M366.8,439.2L369.6,440.9L371.2,439.5M363.7,444.4L367.0,446.3L370.0,444.4L371.8,447.4M364.0,440.6L365.2,441.8L366.0,444.6L367.0,446.3M363.7,444.4L362.5,448.4L363.7,450.2L364.8,452.9L366.0,454.7L365.2,456.1L364.8,457.4L366.2,459.4L368.8,460.8L369.4,464.1L371.2,466.5M358.9,450.4L356.5,452.0L356.1,456.5L351.8,458.8M351.8,458.8L347.8,461.2L346.1,460.3L345.5,459.0L347.5,457.0L346.3,456.1M345.5,459.0L345.3,461.9L344.3,467.1M342.9,463.4L344.1,467.4M344.3,467.6L346.5,468.0L349.2,466.3L350.2,465.2L348.2,463.0L352.2,461.9L352.6,461.4L351.8,458.8M352.6,461.4L358.1,463.6L363.5,468.0L367.0,468.2L369.0,466.3L370.0,466.3M367.0,468.2L369.0,469.5L370.8,469.5M359.7,494.9L360.5,492.8L363.1,492.8L367.0,493.2L369.0,493.6L371.9,490.3L377.9,489.5L383.8,487.5L385.2,483.3L384.2,481.8L379.1,481.4L377.1,478.7M384.2,481.8L385.4,479.1L385.8,477.2L386.6,477.2M377.9,489.5L380.0,494.4M368.0,430.0L367.0,423.2L369.0,418.0L371.4,417.5L375.5,414.6L378.9,415.2L382.8,416.5L385.2,417.5L389.3,416.2L392.9,417.8L396.6,417.0L393.7,414.1L395.7,409.8L395.7,408.4L400.6,407.9L404.0,407.3L409.9,405.7L415.0,404.9L415.8,408.2L420.0,408.7L422.3,409.5L426.3,407.9L429.0,410.3L433.4,417.0L439.9,416.5L443.7,420.1L447.6,421.4M447.6,421.4L444.7,423.2L444.1,426.5L439.1,426.2L437.7,430.5L433.4,431.7L434.8,436.1L433.6,438.5M433.6,438.5L431.4,437.1L424.9,436.8L421.3,436.1L420.4,438.0L415.8,437.1L413.8,439.9L410.7,442.1L406.9,440.9L405.7,436.6L403.4,434.9L395.9,433.2L390.7,430.2L385.8,431.7L385.8,440.6L383.6,439.2L381.6,438.3L378.9,439.7M385.8,440.6L388.0,440.6L390.9,437.1L393.7,438.5L397.4,441.1L398.4,443.7L402.0,446.3L406.5,449.7M381.6,450.0L384.6,448.1L388.2,447.7L392.3,449.5L396.1,451.6L396.1,453.8L398.8,454.5L402.6,452.3L406.5,449.7M406.5,449.7L409.5,450.7L412.1,450.4L413.8,449.3L416.6,451.3L415.8,448.4L416.6,447.7L423.1,450.2M409.5,450.7L409.1,446.0L410.5,444.6L414.4,443.7L415.0,442.1L417.4,440.9L419.4,441.8L417.0,443.2L414.6,444.6L420.7,444.9M433.6,438.5L429.6,441.1L427.1,441.4L422.9,442.5L420.7,444.9L423.1,447.2L423.1,450.2M413.8,439.9L415.8,438.5L415.0,442.1M396.1,453.8L394.7,457.4L395.5,463.0L397.2,464.1L395.5,466.7L398.6,467.6L400.0,472.3L396.8,476.6M395.5,466.7L401.8,467.6L406.1,466.5L406.3,464.1L412.1,462.1L414.0,458.8L413.2,457.4L415.6,456.5L416.6,451.8L420.6,450.9L423.1,450.2M409.9,479.9L415.4,478.3L412.5,472.7L414.8,470.6L419.4,466.5L422.3,463.9L422.3,460.8L424.1,461.2L421.3,459.2L421.3,455.9L427.3,455.2L428.8,454.1M423.1,450.2L425.7,453.4L428.8,454.1L431.0,456.5L432.2,460.3L430.8,463.6L435.4,465.8M435.4,465.8L437.3,465.6L443.3,469.3L449.2,470.8L449.2,474.0L441.3,471.7L435.4,469.7L433.4,468.9L435.4,465.8M449.2,470.8L450.8,472.1L452.4,470.2L456.1,471.0L457.1,473.0L452.6,473.4L450.8,472.1M456.1,471.0L459.3,469.3L463.6,468.2L467.4,469.9L467.6,470.8M451.0,483.7L450.6,478.5L449.2,477.8L449.8,474.9L452.6,474.9L452.6,476.4L457.7,477.0L455.3,479.1L456.1,481.2L457.5,479.7L458.1,484.8L457.5,486.0M458.1,484.8L459.3,482.9L459.5,479.1L462.2,475.9L463.2,473.6L467.0,472.5L467.6,470.8M467.6,470.8L470.1,471.7L470.1,475.1L468.0,478.3L470.5,480.8L471.1,482.9L472.9,484.3L475.1,484.3M475.1,484.3L472.9,486.6L470.5,488.1L468.4,491.0L470.1,495.1L469.2,497.5L471.1,501.8L471.9,504.2L470.3,507.4M475.1,484.3L476.3,482.3L477.1,482.5L478.6,485.2L481.8,486.2L480.4,488.9L483.0,490.3L487.7,495.3L487.5,498.3L484.6,498.9L483.0,499.1L483.8,496.3L482.2,494.9L482.0,492.6L479.4,490.8L476.9,491.2L474.9,492.6L475.3,488.3L473.5,488.1L472.9,486.6M487.5,498.3L487.5,503.2L484.4,504.6L485.0,506.2L481.4,507.0M483.0,499.1L478.6,499.1L477.5,500.5L478.4,504.4M477.1,482.5L480.4,482.3L483.2,480.6L485.9,481.6L488.5,484.3M472.9,515.0L474.5,516.2L474.9,516.6L476.9,515.4M491.7,523.8L493.7,526.0L496.8,524.8L499.8,525.2L501.6,525.0L502.5,522.2L503.7,519.4L507.5,519.4M500.6,518.6L501.6,519.8L502.9,519.2L503.1,518.0M447.6,421.4L452.4,419.9L457.3,417.0L461.4,417.5L467.4,419.6L469.4,417.8L469.4,413.8L477.1,415.7L477.3,417.5L485.9,418.3L493.8,421.2L498.8,419.6L505.7,419.6M447.6,421.4L449.0,422.7L453.5,425.0L454.9,427.7L454.7,431.0L459.9,431.7L463.6,433.4L465.6,437.3L474.7,437.5L482.4,439.9L487.5,438.0L493.3,437.1L496.2,434.9L496.0,431.7L500.4,431.7L505.5,428.5L512.0,427.5L509.3,424.5L503.3,425.0L505.7,419.6M505.7,419.6L507.9,420.4L510.8,418.8L512.4,414.6L513.8,410.3L519.3,409.8L524.1,411.7" fill="none" stroke="#d6d6cf" stroke-width="0.55" stroke-linejoin="round"/><circle cx="103.6" cy="444.3" r="3.6" fill="#8d97c4" fill-opacity=".85"/><circle cx="129.2" cy="442.59999999999997" r="18.2" fill="#1e90ff" fill-opacity=".52" stroke="#3f90f4" stroke-width="1.0"/><circle cx="183.9" cy="554.0" r="18.2" fill="#1e90ff" fill-opacity=".52" stroke="#3f90f4" stroke-width="1.0"/><circle cx="292.7" cy="431.7" r="15.6" fill="#1e90ff" fill-opacity=".52" stroke="#3f90f4" stroke-width="1.0"/><circle cx="460.1" cy="452.2" r="15.6" fill="#1e90ff" fill-opacity=".52" stroke="#3f90f4" stroke-width="1.0"/><circle cx="341.7" cy="512.4" r="13.5" fill="#1e90ff" fill-opacity=".52" stroke="#3f90f4" stroke-width="1.0"/><circle cx="299" cy="401.4" r="6.8" fill="#1e90ff" fill-opacity=".52" stroke="#3f90f4" stroke-width="1.0"/><circle cx="326.6" cy="425.9" r="6.8" fill="#1e90ff" fill-opacity=".52" stroke="#3f90f4" stroke-width="1.0"/><circle cx="368.2" cy="442.59999999999997" r="6.8" fill="#1e90ff" fill-opacity=".52" stroke="#3f90f4" stroke-width="1.0"/><circle cx="407.8" cy="456.7" r="6.8" fill="#1e90ff" fill-opacity=".52" stroke="#3f90f4" stroke-width="1.0"/><circle cx="362.5" cy="479.0" r="6.8" fill="#1e90ff" fill-opacity=".52" stroke="#3f90f4" stroke-width="1.0"/><circle cx="318.2" cy="437.9" r="4.2" fill="#1e90ff" fill-opacity=".52" stroke="#3f90f4" stroke-width="1.0"/><circle cx="111.5" cy="465.5" r="4.7" fill="#1e90ff" fill-opacity=".52" stroke="#3f90f4" stroke-width="1.0"/><circle cx="138.5" cy="549.4" r="4.7" fill="#1e90ff" fill-opacity=".52" stroke="#3f90f4" stroke-width="1.0"/><circle cx="343.2" cy="545.1999999999999" r="4.7" fill="#1e90ff" fill-opacity=".52" stroke="#3f90f4" stroke-width="1.0"/><circle cx="261.5" cy="493.09999999999997" r="2.1" fill="#1e90ff" fill-opacity=".52" stroke="#3f90f4" stroke-width="0.5"/><circle cx="293.8" cy="492.59999999999997" r="2.1" fill="#1e90ff" fill-opacity=".52" stroke="#3f90f4" stroke-width="0.5"/><circle cx="496.4" cy="529.6" r="2.1" fill="#1e90ff" fill-opacity=".52" stroke="#3f90f4" stroke-width="0.5"/><circle cx="151" cy="443.09999999999997" r="1.0" fill="#1e90ff" fill-opacity=".52" stroke="#3f90f4" stroke-width="0.5"/></g></svg></div><span class="t" style="left:74.5px;top:315.5px;font-size:8.6px;color:#323130;-webkit-text-stroke:0.3px;letter-spacing:0.041px;">Visitors by country</span>
<div class="card" style="left:555px;top:308px;width:231.3px;height:309.6px"><svg width="231" height="310" viewBox="555 308 231 310"><path d="M606.9,347.5 L606.9,341.0 M605.3,342.6 L606.9,340.90000000000003 L608.5,342.6" fill="none" stroke="#979593" stroke-width="0.7" stroke-linecap="round" stroke-linejoin="round"/></svg><div class="row" style="left:13.3px;top:48.1px;width:204.3px"></div><div class="row" style="left:13.3px;top:71.9px;width:204.3px"></div><div class="row" style="left:13.3px;top:95.7px;width:204.3px"></div><div class="row" style="left:13.3px;top:119.5px;width:204.3px"></div><div class="row" style="left:13.3px;top:143.3px;width:204.3px"></div><div class="row" style="left:13.3px;top:167.1px;width:204.3px"></div><div class="row" style="left:13.3px;top:190.9px;width:204.3px"></div><div class="row" style="left:13.3px;top:214.7px;width:204.3px"></div><div class="row" style="left:13.3px;top:238.5px;width:204.3px"></div><div class="row" style="left:13.3px;top:262.3px;width:204.3px"></div><div class="row" style="left:13.3px;top:286.1px;width:204.3px"></div><div class="bar" style="left:98.3px;top:53.5px;width:94.5px"></div><div class="bar" style="left:98.3px;top:77.3px;width:86.9px"></div><div class="bar" style="left:98.3px;top:101.1px;width:43.9px"></div><div class="bar" style="left:98.3px;top:124.9px;width:34.9px"></div><div class="bar" style="left:99.1px;top:148.7px;width:11.3px"></div><div class="bar" style="left:99.1px;top:172.5px;width:6.4px"></div><div class="bar" style="left:99.1px;top:196.3px;width:6.4px"></div><div class="bar" style="left:99.1px;top:220.1px;width:6.4px"></div><div class="bar" style="left:99.1px;top:243.9px;width:6.4px"></div><div class="bar" style="left:99.1px;top:267.7px;width:6.4px"></div></div><span class="t" style="left:564.9px;top:315.5px;font-size:8.6px;color:#323130;-webkit-text-stroke:0.3px;letter-spacing:0.019px;">Top referring domains</span><span class="t" style="left:569.6px;top:340.4px;font-size:8.6px;color:#323130;-webkit-text-stroke:0.3px;letter-spacing:-0.085px;">Domain</span><span class="t" style="left:658.6px;top:340.4px;font-size:8.6px;color:#323130;-webkit-text-stroke:0.3px;letter-spacing:-0.284px;">Page views</span><span class="t" style="left:568.8px;top:365.6px;font-size:8.6px;color:#323130;letter-spacing:-0.123px;">zencorporation.com</span><span class="t" style="right:187.5px;top:365.6px;font-size:8.6px;color:#323130;letter-spacing:-0.231px;">11,329</span><span class="t" style="left:568.8px;top:389.4px;font-size:8.6px;color:#323130;letter-spacing:-0.261px;">iselectrics.com</span><span class="t" style="right:187.5px;top:389.4px;font-size:8.6px;color:#323130;letter-spacing:-0.219px;">7,112</span><span class="t" style="left:568.8px;top:413.2px;font-size:8.6px;color:#323130;letter-spacing:-0.116px;">codehow.com</span><span class="t" style="right:187.5px;top:413.2px;font-size:8.6px;color:#323130;letter-spacing:-0.379px;">4,998</span><span class="t" style="left:568.8px;top:437.0px;font-size:8.6px;color:#323130;letter-spacing:-0.127px;">faxquote.com</span><span class="t" style="right:187.5px;top:437.0px;font-size:8.6px;color:#323130;letter-spacing:-0.379px;">3,560</span><span class="t" style="left:568.8px;top:460.8px;font-size:8.6px;color:#323130;letter-spacing:-0.101px;">konmatfix.com</span><span class="t" style="right:187.5px;top:460.8px;font-size:8.6px;color:#323130;letter-spacing:-0.379px;">2,245</span><span class="t" style="left:568.8px;top:484.6px;font-size:8.6px;color:#323130;letter-spacing:-0.498px;">dambase.com</span><span class="t" style="right:187.5px;top:484.6px;font-size:8.6px;color:#323130;letter-spacing:-0.379px;">1,453</span><span class="t" style="left:568.8px;top:508.4px;font-size:8.6px;color:#323130;letter-spacing:-0.147px;">groovestreet.com</span><span class="t" style="right:187.5px;top:508.4px;font-size:8.6px;color:#323130;letter-spacing:-0.722px;">984</span><span class="t" style="left:568.8px;top:532.2px;font-size:8.6px;color:#323130;letter-spacing:-0.095px;">treequote.com</span><span class="t" style="right:187.5px;top:532.2px;font-size:8.6px;color:#323130;letter-spacing:-0.722px;">763</span><span class="t" style="left:568.8px;top:556.0px;font-size:8.6px;color:#323130;letter-spacing:-0.120px;">statholdings.com</span><span class="t" style="right:187.5px;top:556.0px;font-size:8.6px;color:#323130;letter-spacing:-0.722px;">432</span><span class="t" style="left:568.8px;top:579.8px;font-size:8.6px;color:#323130;letter-spacing:-0.070px;">labdrill.com</span><span class="t" style="right:187.5px;top:579.8px;font-size:8.6px;color:#323130;letter-spacing:-0.722px;">232</span>
<div class="card" style="left:800px;top:308px;width:231.3px;height:309.6px"><svg width="231" height="310" viewBox="800 308 231 310"><path d="M852.1,347.5 L852.1,341.0 M850.5,342.6 L852.1,340.90000000000003 L853.7,342.6" fill="none" stroke="#979593" stroke-width="0.7" stroke-linecap="round" stroke-linejoin="round"/></svg><div class="row" style="left:13.3px;top:48.1px;width:204.3px"></div><div class="row" style="left:13.3px;top:71.9px;width:204.3px"></div><div class="row" style="left:13.3px;top:95.7px;width:204.3px"></div><div class="row" style="left:13.3px;top:119.5px;width:204.3px"></div><div class="row" style="left:13.3px;top:143.3px;width:204.3px"></div><div class="row" style="left:13.3px;top:167.1px;width:204.3px"></div><div class="row" style="left:13.3px;top:190.9px;width:204.3px"></div><div class="row" style="left:13.3px;top:214.7px;width:204.3px"></div><div class="row" style="left:13.3px;top:238.5px;width:204.3px"></div><div class="row" style="left:13.3px;top:262.3px;width:204.3px"></div><div class="row" style="left:13.3px;top:286.1px;width:204.3px"></div><div class="bar" style="left:98.1px;top:53.5px;width:80px"></div><div class="bar" style="left:98.1px;top:77.3px;width:80px"></div><div class="bar" style="left:98.1px;top:101.1px;width:43.3px"></div><div class="bar" style="left:98.1px;top:124.9px;width:34.8px"></div><div class="bar" style="left:99.0px;top:148.7px;width:11.4px"></div><div class="bar" style="left:99.0px;top:172.5px;width:6.2px"></div><div class="bar" style="left:99.0px;top:196.3px;width:6.2px"></div><div class="bar" style="left:99.0px;top:220.1px;width:6.2px"></div><div class="bar" style="left:99.0px;top:243.9px;width:6.2px"></div><div class="bar" style="left:99.0px;top:267.7px;width:6.2px"></div></div><span class="t" style="left:809.4px;top:315.5px;font-size:8.6px;color:#323130;-webkit-text-stroke:0.3px;letter-spacing:-0.184px;">Top pages</span><span class="t" style="left:814.6px;top:340.4px;font-size:8.6px;color:#323130;-webkit-text-stroke:0.3px;letter-spacing:-0.085px;">Domain</span><span class="t" style="left:903.6px;top:340.4px;font-size:8.6px;color:#323130;-webkit-text-stroke:0.3px;letter-spacing:-0.284px;">Page views</span><span class="t" style="left:813.9px;top:365.6px;font-size:8.6px;color:#323130;letter-spacing:-0.312px;">Home</span><span class="t" style="left:813.9px;top:389.4px;font-size:8.6px;color:#323130;letter-spacing:-0.437px;">Store</span><span class="t" style="left:813.9px;top:413.2px;font-size:8.6px;color:#323130;letter-spacing:-0.194px;">Account</span><span class="t" style="left:813.9px;top:437.0px;font-size:8.6px;color:#323130;letter-spacing:-0.299px;">Returns</span><span class="t" style="left:813.9px;top:460.8px;font-size:8.6px;color:#323130;letter-spacing:-0.462px;">Help</span><span class="t" style="left:813.9px;top:484.6px;font-size:8.6px;color:#323130;letter-spacing:-0.292px;">About</span><span class="t" style="left:813.9px;top:508.4px;font-size:8.6px;color:#323130;letter-spacing:-0.379px;">Feedback</span><span class="t" style="left:813.9px;top:532.2px;font-size:8.6px;color:#323130;letter-spacing:-0.450px;">Cart</span><span class="t" style="left:813.9px;top:556.0px;font-size:8.6px;color:#323130;letter-spacing:-0.343px;">Favorites</span><span class="t" style="left:813.9px;top:579.8px;font-size:8.6px;color:#323130;letter-spacing:-0.171px;">Contact</span>
</div>
</body></html>
